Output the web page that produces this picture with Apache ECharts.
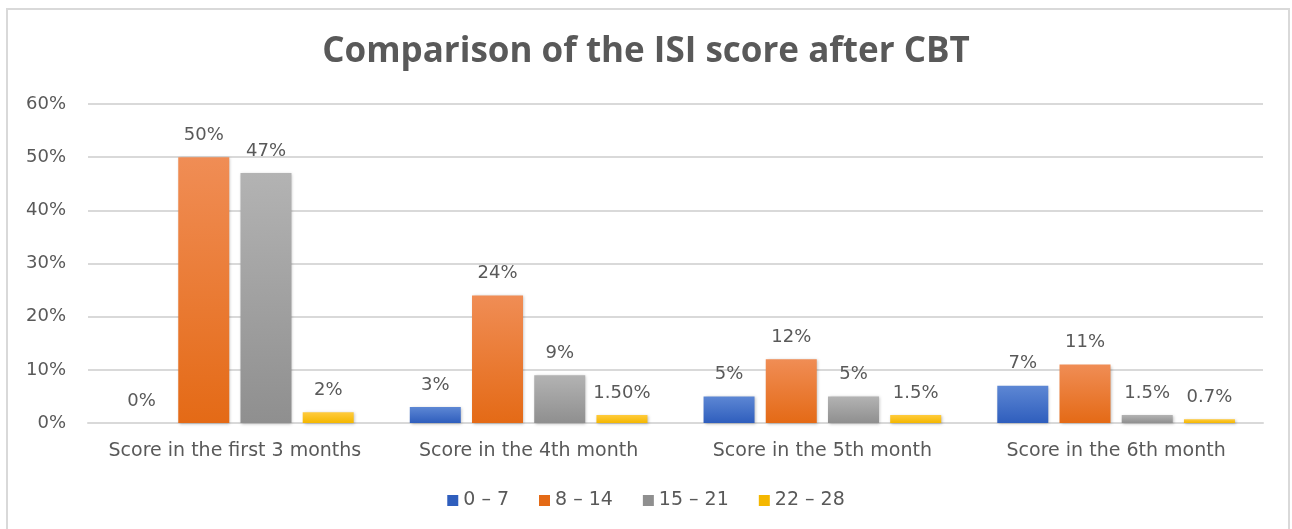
<!DOCTYPE html>
<html>
<head>
<meta charset="utf-8">
<script src="https://cdn.jsdelivr.net/npm/echarts@6/dist/echarts.min.js"></script>
<style>
  html, body { margin: 0; padding: 0; background: #fff; }
  #frame { position: absolute; left: 6px; top: 8px; width: 1284px; height: 530px; border: 2px solid #d9d9d9; box-sizing: border-box; }
  #chart { position: absolute; left: 0; top: 0; width: 1292px; height: 529px; }
</style>
</head>
<body>
<div id="frame"></div>
<div id="chart"></div>
<script>
const categories = ['Score in the first 3 months', 'Score in the 4th month', 'Score in the 5th month', 'Score in the 6th month'];
const seriesNames = ['0 – 7', '8 – 14', '15 – 21', '22 – 28'];
const values = [
  [0, 3, 5, 7],
  [50, 24, 12, 11],
  [47, 9, 5, 1.5],
  [2, 1.5, 1.5, 0.7]
];
const labelTexts = [
  ['0%', '3%', '5%', '7%'],
  ['50%', '24%', '12%', '11%'],
  ['47%', '9%', '5%', '1.5%'],
  ['2%', '1.50%', '1.5%', '0.7%']
];
const yTicks = [0, 10, 20, 30, 40, 50, 60];

const gradients = [
  ['#5d87d4', '#2f5ebd'],
  ['#f08d55', '#e46a16'],
  ['#b3b3b3', '#8f8f8f'],
  ['#ffcb3d', '#f4b700']
];
const TITLE_FONT = '"Open Sans", "Noto Sans", sans-serif';
const FONT = '"DejaVu Sans", sans-serif';
const TEXT = '#595959';

const chart = echarts.init(document.getElementById('chart'));

const series = seriesNames.map((name, i) => ({
  name: name,
  type: 'bar',
  barWidth: 51,
  barGap: '22%',
  data: values[i],
  itemStyle: {
    color: new echarts.graphic.LinearGradient(0, 0, 0, 1, [
      { offset: 0, color: gradients[i][0] },
      { offset: 1, color: gradients[i][1] }
    ]),
    shadowColor: 'rgba(0,0,0,0.25)',
    shadowBlur: 3,
    shadowOffsetX: 1,
    shadowOffsetY: 1
  },
  label: {
    show: true,
    position: 'top',
    distance: 13,
    color: TEXT,
    fontFamily: FONT,
    fontSize: 18,
    formatter: p => labelTexts[i][p.dataIndex]
  }
}));

chart.setOption({
  animation: false,
  title: {
    text: 'Comparison of the ISI score after CBT',
    left: 'center',
    top: 30,
    textStyle: { color: TEXT, fontFamily: TITLE_FONT, fontSize: 35, fontWeight: 'bold' }
  },
  legend: {
    bottom: 14,
    left: 'center',
    itemWidth: 11,
    itemHeight: 11,
    itemGap: 30,
    icon: 'rect',
    textStyle: { color: TEXT, fontFamily: FONT, fontSize: 19 },
    data: seriesNames.map((n, i) => ({ name: n, itemStyle: { color: gradients[i][1] } }))
  },
  grid: { left: 88, right: 29, top: 104, bottom: 106, containLabel: false },
  xAxis: {
    type: 'category',
    data: categories,
    axisLine: { lineStyle: { color: '#d9d9d9', width: 2 } },
    axisTick: { show: false },
    axisLabel: { color: TEXT, fontFamily: FONT, fontSize: 19, margin: 19, interval: 0 }
  },
  yAxis: {
    type: 'value',
    min: 0,
    max: 60,
    interval: 10,
    axisLine: { show: false },
    axisTick: { show: false },
    splitLine: { lineStyle: { color: '#d9d9d9', width: 2 } },
    axisLabel: {
      color: TEXT, fontFamily: FONT, fontSize: 18, margin: 22,
      formatter: v => yTicks.includes(v) ? v + '%' : ''
    }
  },
  series: series
});
</script>
</body>
</html>
